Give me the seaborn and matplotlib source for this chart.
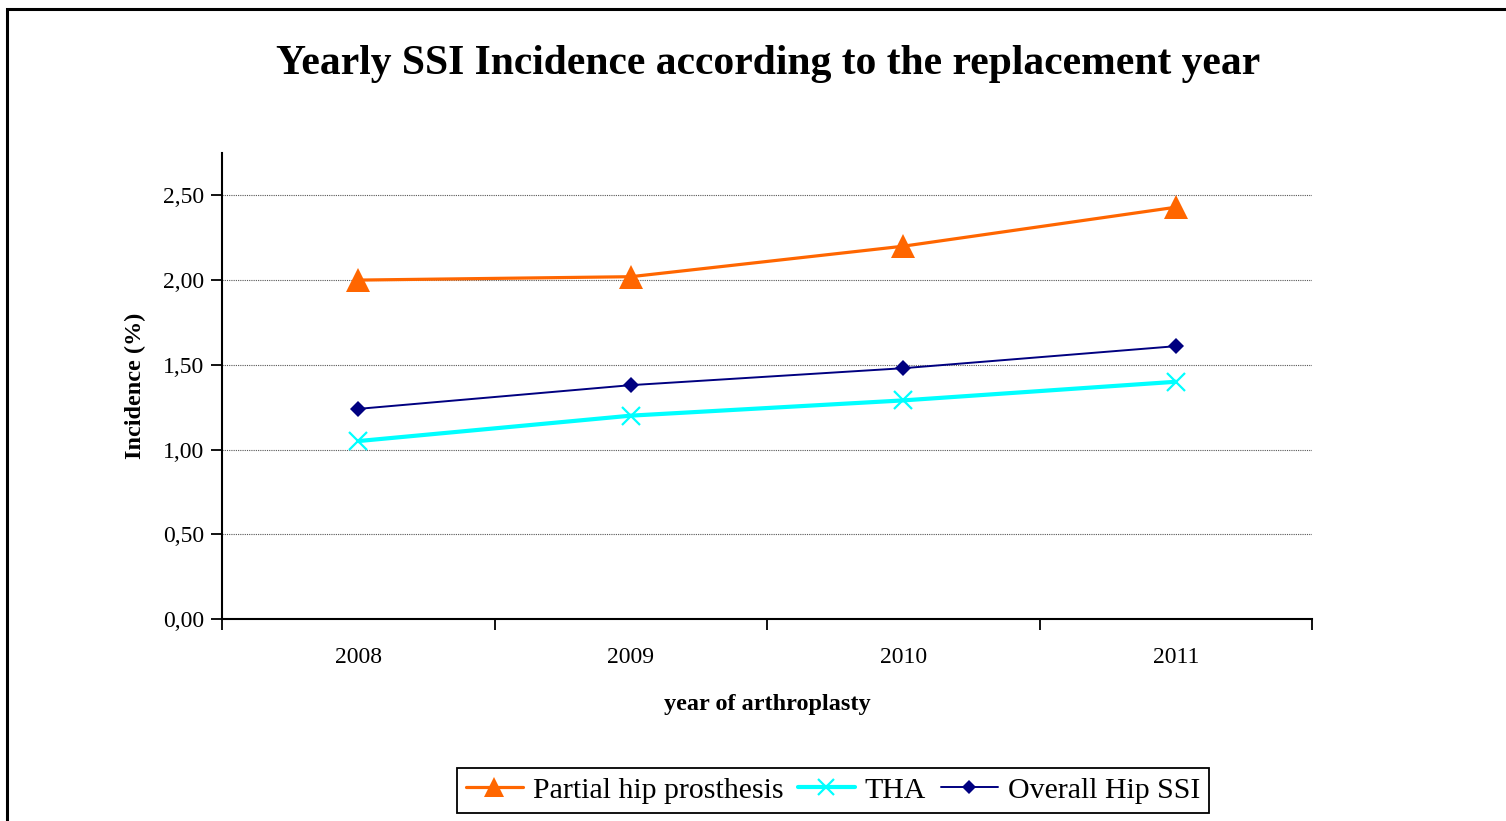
import matplotlib
matplotlib.use("Agg")
import matplotlib.pyplot as plt
from matplotlib.patches import Rectangle
from matplotlib.lines import Line2D
import seaborn as sns
import pandas as pd

# Yearly surgical site infection incidence (%) by replacement year
years = ["2008", "2009", "2010", "2011"]
partial_hip = [2.00, 2.02, 2.20, 2.43]
tha = [1.05, 1.20, 1.29, 1.40]
overall_hip = [1.24, 1.38, 1.48, 1.61]
series_names = ["Partial hip prosthesis", "THA", "Overall Hip SSI"]
y_ticks = [0.0, 0.5, 1.0, 1.5, 2.0, 2.5]
y_tick_labels = ["0,00", "0,50", "1,00", "1,50", "2,00", "2,50"]

sns.set_theme(style="white")
plt.rcParams["font.family"] = ["Liberation Serif", "DejaVu Serif"]
plt.rcParams["text.color"] = "black"
plt.rcParams["axes.labelcolor"] = "black"
plt.rcParams["xtick.color"] = "black"
plt.rcParams["ytick.color"] = "black"

df = pd.DataFrame({
    "year": years * 3,
    "pos": list(range(len(years))) * 3,
    "incidence": partial_hip + tha + overall_hip,
    "series": [series_names[0]] * 4 + [series_names[1]] * 4 + [series_names[2]] * 4,
})

styles = {
    "Partial hip prosthesis": dict(color="#FF6600", lw=2.3, marker="^", ms=17, mew=0),
    "THA": dict(color="#00FFFF", lw=3.0, marker="x", ms=13, mew=1.6),
    "Overall Hip SSI": dict(color="#000080", lw=1.4, marker="D", ms=8.5, mew=0),
}

fig = plt.figure(figsize=(15.06, 8.21), dpi=100)
ax = fig.add_axes([222 / 1506, 1 - 619 / 821, (1312 - 222) / 1506, (619 - 153) / 821])

handles = []
for name in series_names:
    st = styles[name]
    sub = df[df["series"] == name]
    sns.lineplot(data=sub, x="pos", y="incidence", ax=ax, color=st["color"],
                 linewidth=st["lw"], marker=st["marker"], markersize=st["ms"],
                 markeredgewidth=st["mew"], markeredgecolor=st["color"],
                 markerfacecolor=st["color"], legend=False, zorder=3)
    handles.append(Line2D([], [], color=st["color"], lw=st["lw"], marker=st["marker"],
                          markersize=st["ms"] * 0.85, markeredgewidth=st["mew"],
                          markeredgecolor=st["color"], markerfacecolor=st["color"]))

ax.set_xlim(-0.5, len(years) - 0.5)
ax.set_ylim(0, 2.75)
ax.set_yticks(y_ticks)
ax.set_yticklabels(y_tick_labels, fontsize=17)
ax.set_xticks([i - 0.5 for i in range(len(years) + 1)])
ax.set_xticklabels([])
ax.set_xticks(range(len(years)), minor=True)
ax.set_xticklabels(years, minor=True, fontsize=17)
ax.tick_params(axis="x", which="minor", bottom=False, length=0, pad=20)
ax.tick_params(axis="x", which="major", bottom=True, direction="out", length=8,
               width=1.3, color="black")
ax.tick_params(axis="y", left=True, direction="out", length=8, width=1.3,
               color="black", pad=5)
ax.yaxis.grid(True, linestyle=(0, (1, 1)), color="#555555", linewidth=0.8)
ax.xaxis.grid(False)
for side in ["top", "right"]:
    ax.spines[side].set_visible(False)
for side in ["left", "bottom"]:
    ax.spines[side].set_color("black")
    ax.spines[side].set_linewidth(1.5)

ax.set_xlabel("year of arthroplasty", fontsize=17.5, fontweight="bold", labelpad=19)
ax.set_ylabel("Incidence (%)", fontsize=17.5, fontweight="bold", labelpad=12)

fig.text(768 / 1506, 1 - 64 / 821, "Yearly SSI Incidence according to the replacement year",
         ha="center", va="center", fontsize=30, fontweight="bold")

leg = fig.legend(handles, series_names, loc="upper left",
                 bbox_to_anchor=(457 / 1506, 1 - 768 / 821), fontsize=21.5,
                 frameon=True, fancybox=False, edgecolor="black", framealpha=1,
                 ncol=3, handlelength=1.9, handletextpad=0.33, columnspacing=0.5,
                 borderpad=0.3, borderaxespad=0)
leg.get_frame().set_linewidth(1.3)

# outer chart frame
fig.patches.append(Rectangle((7 / 1506, -0.05), 1.1, 1 - 9 / 821 + 0.05,
                             transform=fig.transFigure, fill=False,
                             edgecolor="black", linewidth=2.2))

fig.savefig("out.png", dpi=100, facecolor="white")
